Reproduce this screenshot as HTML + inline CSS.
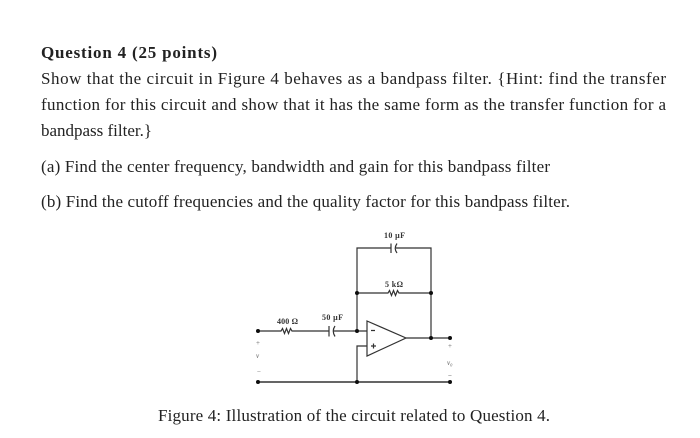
<!DOCTYPE html>
<html><head><meta charset="utf-8"><style>
html,body{margin:0;padding:0;background:#fff;width:700px;height:438px;overflow:hidden}
svg{display:block}
text{font-family:"Liberation Serif",serif;fill:#222}
.t{font-size:17px}
.l{font-size:8px;font-weight:bold;fill:#333}
.w{stroke:#333;stroke-width:1.2;fill:none}
</style></head><body>
<svg width="700" height="438" viewBox="0 0 700 438">
<defs><filter id="b" x="-5%" y="-5%" width="110%" height="110%"><feGaussianBlur stdDeviation="0.35"/></filter></defs>
<g filter="url(#b)">
<text class="t" x="41" y="58" textLength="176" lengthAdjust="spacing" style="font-weight:bold">Question 4 (25 points)</text>
<text class="t" x="41" y="84" textLength="625" lengthAdjust="spacing">Show that the circuit in Figure 4 behaves as a bandpass filter. {Hint: find the transfer</text>
<text class="t" x="41" y="110" textLength="625" lengthAdjust="spacing">function for this circuit and show that it has the same form as the transfer function for a</text>
<text class="t" x="41" y="136" textLength="111" lengthAdjust="spacing">bandpass filter.}</text>
<text class="t" x="41" y="172" textLength="509" lengthAdjust="spacing">(a) Find the center frequency, bandwidth and gain for this bandpass filter</text>
<text class="t" x="41" y="207" textLength="529" lengthAdjust="spacing">(b) Find the cutoff frequencies and the quality factor for this bandpass filter.</text>
<text class="t" x="158" y="421" textLength="392" lengthAdjust="spacing">Figure 4: Illustration of the circuit related to Question 4.</text>
</g>
<g filter="url(#b)">
<!-- top capacitor loop -->
<path class="w" d="M357 331V248H391M396 248H431V338"/>
<path class="w" d="M391 243.500V253"/>
<path class="w" d="M397 243.500Q393.500 248.500 397 253"/>
<!-- 5k resistor -->
<path class="w" d="M357 293H388L389.500 290.500L391.500 295.500L393.500 290.500L395.500 295.500L397.500 290.500L399 293H431"/>
<!-- input -->
<path class="w" d="M258 331H281L282.500 328.500L284.500 333.500L286.500 328.500L288.500 333.500L290.500 328.500L292 331H329M334 331H367"/>
<path class="w" d="M329 326V336.500"/>
<path class="w" d="M335 326Q331.500 331 335 336.500"/>
<!-- op amp -->
<path class="w" d="M367 321V356L406 338Z"/>
<path class="w" d="M406 338H450"/>
<path class="w" d="M367 346H357V382"/>
<path d="M258 382H450" stroke="#333" stroke-width="1.6" fill="none"/>
<path class="w" d="M371 330.500H375M371 346H376M373.500 343.500V348.500"/>
<g fill="#111">
<circle cx="258" cy="331" r="2"/><circle cx="258" cy="382" r="2"/>
<circle cx="357" cy="331" r="2"/><circle cx="357" cy="293" r="2"/><circle cx="357" cy="382" r="2"/>
<circle cx="431" cy="293" r="2"/><circle cx="431" cy="338" r="2"/>
<circle cx="450" cy="338" r="2"/><circle cx="450" cy="382" r="2"/>
</g>
<text class="l" x="384" y="238" textLength="21">10 μF</text>
<text class="l" x="385" y="287" textLength="18">5 kΩ</text>
<text class="l" x="277" y="324" textLength="21">400 Ω</text>
<text class="l" x="322" y="320" textLength="21">50 μF</text>
<text x="256" y="345" style="font-size:7px;fill:#666">+</text>
<text x="256" y="358" style="font-size:7px;font-style:italic;fill:#555">v</text>
<text x="257" y="374" style="font-size:7px;fill:#666">−</text>
<text x="448" y="348" style="font-size:7px;fill:#666">+</text>
<text x="447" y="365" style="font-size:7px;font-style:italic;fill:#555">v₀</text>
<text x="448" y="378" style="font-size:7px;fill:#444">−</text>
</g>
</svg>
</body></html>
